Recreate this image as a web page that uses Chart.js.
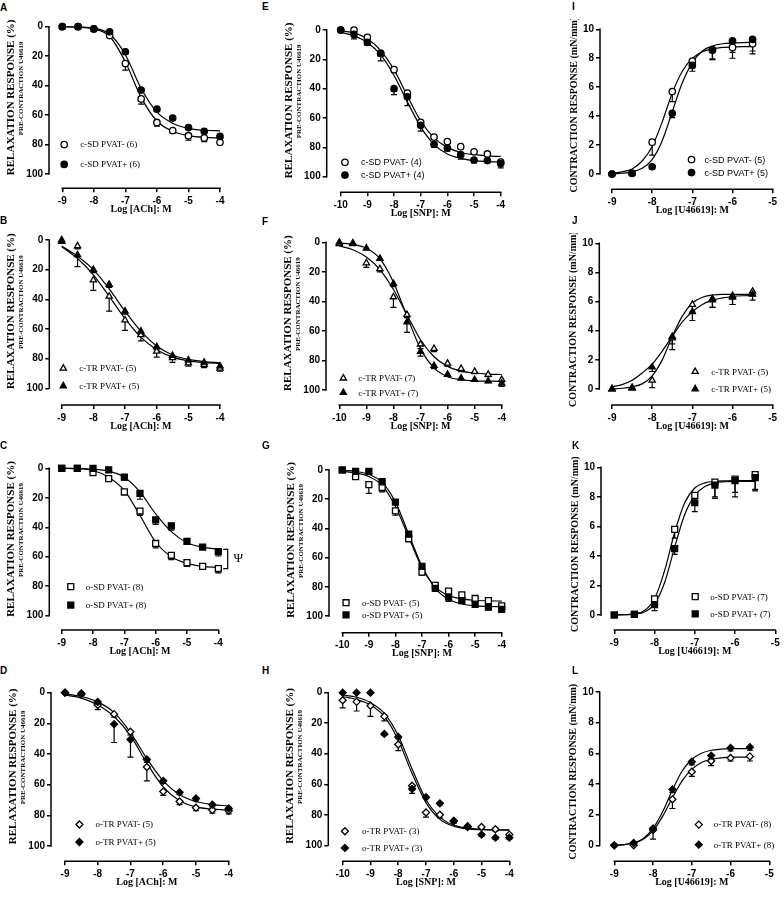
<!DOCTYPE html>
<html>
<head>
<meta charset="utf-8">
<script src="https://cdn.jsdelivr.net/npm/chart.js@4.4.1/dist/chart.umd.min.js"></script>
<style>
body { margin: 0; background: #fff; width: 784px; height: 897px; position: relative; overflow: hidden; }
canvas { position: absolute; }
.lbl { position: absolute; font: bold 10px "Liberation Sans", Arial, sans-serif; line-height: 10px; color: #000; }
</style>
</head>
<body>
<script>
// x values (log M) and ticks
var achX = [-9, -8.5, -8, -7.5, -7, -6.5, -6, -5.5, -5, -4.5, -4];
var snpX = [-10, -9.5, -9, -8.5, -8, -7.5, -7, -6.5, -6, -5.5, -5, -4.5, -4];
var u46X = [-9, -8.5, -8, -7.5, -7, -6.5, -6, -5.5];
var u46FitX = [-9, -8.75, -8.5, -8.25, -8, -7.75, -7.5, -7.25, -7, -6.75, -6.5, -6.25, -6, -5.75, -5.5];
var achTicks = [-9, -8, -7, -6, -5, -4];
var snpTicks = [-10, -9, -8, -7, -6, -5, -4];
var u46Ticks = [-9, -8, -7, -6, -5];
var relaxTicks = [0, 20, 40, 60, 80, 100];
var contractTicks = [0, 2, 4, 6, 8, 10];

var achTitle = 'Log [ACh]: M';
var snpTitle = 'Log [SNP]: M';
var u46Title = 'Log [U46619]: M';
var relaxTitle = 'RELAXATION RESPONSE (%)';
var relaxSubTitle = 'PRE-CONTRACTION U46619';
var contractTitle = 'CONTRACTION RESPONSE (mN/mm)';

// A - c-SD, ACh
var aLabels = ['c-SD PVAT- (6)', 'c-SD PVAT+ (6)'];
var aMinus = [0, 0, 1.5, 6, 25, 49, 65, 70.5, 74, 75.5, 78.5];
var aPlus = [0, 0, 1.5, 3.5, 17, 43, 56, 62, 68.5, 71, 74.5];
var aMinusErr = [0, 0, 0.5, 1, 4.5, 3.5, 2.5, 2, 3, 2.5, 1];
var aPlusErr = [0, 0, 0.5, 1, 1, 1.5, 1.5, 1.5, 1, 1, 1];
var aMinusFit = [0, 0.3, 1.5, 6.5, 24, 48, 64, 71, 74, 75.2, 75.5];
var aPlusFit = [0, 0.2, 1, 5, 19, 42, 58, 65.5, 69, 70.3, 70.7];

// E - c-SD, SNP
var eLabels = ['c-SD PVAT- (4)', 'c-SD PVAT+ (4)'];
var eMinus = [0, 0, 5, 16, 27, 43, 63, 73, 76, 79.5, 83, 84.5, 90];
var ePlus = [0, 3, 8.5, 16, 40, 45.5, 65, 78, 80.5, 85, 88.6, 89, 91];
var eMinusErr = [0, 0.5, 1, 2, 2, 2, 2, 1.5, 1.5, 1.5, 1.5, 1, 1];
var ePlusErr = [0, 3, 2, 5, 4, 6, 4, 2, 2, 3, 2, 1.5, 3];
var eMinusFit = [0.5, 2, 6, 14, 27, 45, 62, 73.5, 80, 83.5, 85, 85.8, 86.2];
var ePlusFit = [1.5, 4, 8.5, 17, 31, 49, 66, 78, 84.5, 87.5, 89, 89.7, 90];

// I - c-SD, U46619
var iLabels = ['c-SD PVAT- (5)', 'c-SD PVAT+ (5)'];
var iMinus = [0, 0.05, 2.2, 5.7, 7.8, 8.6, 8.75, 9.0];
var iPlus = [0, 0.05, 0.5, 4.2, 7.5, 8.55, 9.2, 9.3];
var iMinusErr = [0, 0, 0.9, 0.7, 0.3, 0.7, 0.75, 0.7];
var iPlusErr = [0, 0, 0.1, 0.3, 0.4, 0.6, 0.8, 0.8];
var iMinusFit = [0.05, 0.15, 0.35, 0.9, 1.9, 3.6, 5.6, 7.1, 8.0, 8.45, 8.65, 8.75, 8.78, 8.8, 8.8];
var iPlusFit = [0, 0.05, 0.15, 0.4, 1.0, 2.3, 4.3, 6.3, 7.7, 8.5, 8.85, 9.0, 9.05, 9.08, 9.1];

// B - c-TR, ACh
var bLabels = ['c-TR PVAT- (5)', 'c-TR PVAT+ (5)'];
var bMinus = [0, 4, 27, 38, 54, 64, 75, 79.5, 83, 84, 86.5];
var bPlus = [1, 10, 20, 30, 48, 61.5, 72, 78, 81, 82.5, 85];
var bMinusErr = [0, 2, 7, 10, 7, 4, 4, 3, 2, 2, 2];
var bPlusErr = [0, 8, 2, 2, 2, 2, 2, 2, 2, 2, 2];
var bMinusFit = [4.5, 12.5, 23.5, 38, 53, 65.5, 74, 79, 81.5, 82.7, 83.3];
var bPlusFit = [4, 11, 20, 33, 48, 61.5, 71.5, 77.5, 80.5, 82, 82.8];

// F - c-TR, SNP
var fLabels = ['c-TR PVAT- (7)', 'c-TR PVAT+ (7)'];
var fMinus = [1, 1, 14, 18, 37, 49, 69, 72, 82, 85.5, 87.5, 89.5, 93];
var fPlus = [0, 0.5, 4, 11, 28, 54, 74, 83.5, 89.5, 92, 93, 94, 95.5];
var fMinusErr = [0, 0, 3, 2, 7, 2, 3, 2, 2, 2, 1.5, 1.5, 1.5];
var fPlusErr = [0, 0, 1, 1, 2, 7, 3, 2, 1, 1, 1, 1, 2];
var fMinusFit = [2.5, 5, 10, 18.5, 32, 49, 66, 77.5, 84, 87.2, 88.5, 89.2, 89.5];
var fPlusFit = [0.5, 1.5, 4, 11, 27, 50, 72, 85, 91, 93, 93.8, 94, 94.2];

// J - c-TR, U46619
var jLabels = ['c-TR PVAT- (5)', 'c-TR PVAT+ (5)'];
var jMinus = [0, 0.05, 0.6, 3.5, 5.8, 6.2, 6.4, 6.7];
var jPlus = [0, 0.1, 1.5, 3.6, 5.3, 6.1, 6.3, 6.5];
var jMinusErr = [0, 0, 0.5, 0.8, 0.5, 0.6, 0.6, 0.3];
var jPlusErr = [0, 0, 0.3, 0.5, 0.6, 0.5, 0.5, 0.4];
var jMinusFit = [0, 0.05, 0.15, 0.35, 0.9, 2.0, 3.6, 5.0, 5.9, 6.3, 6.45, 6.5, 6.5, 6.5, 6.5];
var jPlusFit = [0.15, 0.3, 0.6, 1.1, 1.7, 2.6, 3.6, 4.6, 5.3, 5.8, 6.1, 6.25, 6.35, 6.4, 6.42];

// C - o-SD, ACh
var cLabels = ['o-SD PVAT- (8)', 'o-SD PVAT+ (8)'];
var cMinus = [0, 0, 3, 7, 16, 29, 51, 59, 64, 66.5, 68];
var cPlus = [0, 0, 0, 1, 6, 17, 35, 39, 49.5, 53.5, 56.5];
var cMinusErr = [0, 0, 0.5, 1, 2, 3, 3, 3, 2.5, 2, 3];
var cPlusErr = [0, 0, 0, 1, 2, 4, 3, 3, 2, 1, 3];
var cMinusFit = [0, 0.3, 1.5, 6, 15, 32, 50, 60, 64.5, 66.5, 67.3];
var cPlusFit = [0, 0.1, 0.5, 2, 6, 16, 31, 43, 50.5, 53.5, 55];

// G - o-SD, SNP
var gLabels = ['o-SD PVAT- (5)', 'o-SD PVAT+ (5)'];
var gMinus = [0, 4.5, 10, 12, 28, 47, 70, 79, 83, 85.5, 88, 89.5, 93];
var gPlus = [0, 1, 1, 8, 22, 44, 66, 81, 87, 89.5, 92, 94, 95.5];
var gMinusErr = [0, 2, 6, 3, 3, 2, 2, 2, 1.5, 1.5, 1.5, 1.5, 1];
var gPlusErr = [0, 0.5, 0.5, 1, 1.5, 1.5, 1.5, 1.5, 3, 1.5, 1, 1, 1];
var gMinusFit = [1, 2, 4.5, 10.5, 25, 46, 67, 80, 86, 88.3, 89.2, 89.6, 89.8];
var gPlusFit = [0.3, 1, 3, 8.5, 22, 44, 66, 81, 88.5, 91.8, 93, 93.5, 93.7];

// K - o-SD, U46619
var kLabels = ['o-SD PVAT- (7)', 'o-SD PVAT+ (7)'];
var kMinus = [0, 0.05, 1.1, 5.8, 8.1, 9.0, 9.2, 9.5];
var kPlus = [0, 0.05, 0.7, 4.5, 7.6, 8.8, 9.1, 9.3];
var kMinusErr = [0, 0, 0.4, 0.6, 0.5, 1.0, 0.9, 1.0];
var kPlusErr = [0, 0, 0.4, 0.4, 0.6, 0.9, 1.1, 0.9];
var kMinusFit = [0, 0.02, 0.08, 0.3, 1.1, 3.0, 5.6, 7.6, 8.6, 8.95, 9.05, 9.08, 9.1, 9.1, 9.1];
var kPlusFit = [0, 0.02, 0.06, 0.2, 0.75, 2.2, 4.6, 6.8, 8.1, 8.7, 8.95, 9.02, 9.05, 9.05, 9.05];

// D - o-TR, ACh
var dLabels = ['o-TR PVAT- (5)', 'o-TR PVAT+ (5)'];
var dMinus = [0, 1, 8, 14, 25.5, 48.5, 64.5, 71, 75, 76.5, 77];
var dPlus = [0, 0.5, 6, 20.5, 30.5, 43.5, 57.5, 65, 69, 73, 75.5];
var dMinusErr = [0, 0.5, 3, 2, 2, 9, 2.5, 2, 2, 2, 2];
var dPlusErr = [0, 0.5, 1.5, 12, 11.5, 2, 1.5, 1.5, 1.5, 1.5, 1.5];
var dMinusFit = [1.5, 3.5, 8, 15.5, 28, 46, 61.5, 70.5, 74.5, 76, 76.6];
var dPlusFit = [0.8, 2.5, 6, 13, 26, 43, 57.5, 66.5, 71, 73, 73.8];

// H - o-TR, SNP
var hLabels = ['o-TR PVAT- (3)', 'o-TR PVAT+ (3)'];
var hMinus = [5, 6, 8.5, 15.5, 34, 61, 78.5, 80, 84, 87.5, 88, 89.5, 93];
var hPlus = [0, 0, 0, 27, 29, 63, 68.5, 72.5, 84, 88, 93, 95, 95];
var hMinusErr = [5, 6, 7, 3, 4, 3, 3, 2, 1.5, 1.5, 1, 1, 1];
var hPlusErr = [0, 0, 0, 1, 1, 3, 1, 1, 1, 1, 1, 1, 1];
var hMinusFit = [2.5, 4.5, 8, 15.5, 31, 53, 72, 83, 87.5, 89.3, 89.8, 90, 90];
var hPlusFit = [1.5, 3, 6.5, 13.5, 28, 50, 70, 81.5, 86.8, 88.8, 89.5, 89.8, 89.8];

// L - o-TR, U46619
var lLabels = ['o-TR PVAT- (8)', 'o-TR PVAT+ (8)'];
var lMinus = [0, 0, 1.0, 3.0, 4.8, 5.5, 5.7, 5.8];
var lPlus = [0, 0.15, 1.1, 3.65, 5.45, 5.85, 6.35, 6.4];
var lMinusErr = [0, 0, 0.6, 0.6, 0.3, 0.3, 0.2, 0.3];
var lPlusErr = [0, 0, 0.2, 0.2, 0.2, 0.2, 0.2, 0.2];
var lMinusFit = [0, 0.05, 0.15, 0.4, 0.95, 1.9, 3.1, 4.2, 4.95, 5.4, 5.6, 5.7, 5.75, 5.75, 5.75];
var lPlusFit = [0, 0.05, 0.15, 0.45, 1.1, 2.2, 3.6, 4.85, 5.6, 6.0, 6.2, 6.27, 6.3, 6.3, 6.3];

var SERIF = '"Liberation Serif", "Times New Roman", serif';
var SANS = '"Liberation Sans", Arial, sans-serif';

var panels = [
  {letter: 'A', lx: 0, ly: 4, kind: 'relax', x: achX, fitX: achX, xTicks: achTicks, xTitle: achTitle,
   minus: aMinus, plus: aPlus, minusErr: aMinusErr, plusErr: aPlusErr, minusFit: aMinusFit, plusFit: aPlusFit,
   style: 'circle', r: 3.2, labels: aLabels, leg: {x: -8.94, y: [80, 93.5], dx: 16, font: SERIF},
   axisX: 49, topPx: 26.7, bottomPx: 174, axisY: 188.3, xStartPx: 62.3, xEndPx: 220},
  {letter: 'E', lx: 262, ly: 3, kind: 'relax', x: snpX, fitX: snpX, xTicks: snpTicks, xTitle: snpTitle,
   minus: eMinus, plus: ePlus, minusErr: eMinusErr, plusErr: ePlusErr, minusFit: eMinusFit, plusFit: ePlusFit,
   style: 'circle', r: 3.2, labels: eLabels, leg: {x: -9.84, y: [90.2, 98.9], dx: 16, font: SANS},
   axisX: 326.7, topPx: 30, bottomPx: 176.7, axisY: 192.3, xStartPx: 340.7, xEndPx: 500.7},
  {letter: 'I', lx: 572, ly: 3, kind: 'contract', x: u46X, fitX: u46FitX, xTicks: u46Ticks, xTitle: u46Title,
   minus: iMinus, plus: iPlus, minusErr: iMinusErr, plusErr: iPlusErr, minusFit: iMinusFit, plusFit: iPlusFit,
   style: 'circle', r: 3.2, labels: iLabels, leg: {x: -7.02, y: [1.0, 0.1], dx: 13, font: SANS},
   axisX: 600, topPx: 29.3, bottomPx: 174, axisY: 189.3, xStartPx: 612, xEndPx: 772.7},
  {letter: 'B', lx: 0, ly: 217, kind: 'relax', x: achX, fitX: achX, xTicks: achTicks, xTitle: achTitle,
   minus: bMinus, plus: bPlus, minusErr: bMinusErr, plusErr: bPlusErr, minusFit: bMinusFit, plusFit: bPlusFit,
   style: 'triangle', r: 3.6, labels: bLabels, leg: {x: -8.95, y: [86.5, 98.4], dx: 16, font: SERIF},
   axisX: 49.3, topPx: 240, bottomPx: 388.3, axisY: 405, xStartPx: 61.7, xEndPx: 220},
  {letter: 'F', lx: 262, ly: 218, kind: 'relax', x: snpX, fitX: snpX, xTicks: snpTicks, xTitle: snpTitle,
   minus: fMinus, plus: fPlus, minusErr: fMinusErr, plusErr: fPlusErr, minusFit: fMinusFit, plusFit: fPlusFit,
   style: 'triangle', r: 3.6, labels: fLabels, leg: {x: -9.85, y: [92, 101.8], dx: 15, font: SERIF},
   axisX: 326, topPx: 242.3, bottomPx: 390, axisY: 405, xStartPx: 339.3, xEndPx: 501.7},
  {letter: 'J', lx: 572, ly: 217, kind: 'contract', x: u46X, fitX: u46FitX, xTicks: u46Ticks, xTitle: u46Title,
   minus: jMinus, plus: jPlus, minusErr: jMinusErr, plusErr: jPlusErr, minusFit: jMinusFit, plusFit: jPlusFit,
   style: 'triangle', r: 3.6, labels: jLabels, leg: {x: -6.93, y: [1.19, 0], dx: 16, font: SERIF},
   axisX: 599.3, topPx: 243.3, bottomPx: 389, axisY: 405, xStartPx: 612, xEndPx: 772.7},
  {letter: 'C', lx: 0, ly: 442, kind: 'relax', x: achX, fitX: achX, xTicks: achTicks, xTitle: achTitle,
   minus: cMinus, plus: cPlus, minusErr: cMinusErr, plusErr: cPlusErr, minusFit: cMinusFit, plusFit: cPlusFit,
   style: 'rect', r: 4.2, labels: cLabels, leg: {x: -8.71, y: [80.3, 92.8], dx: 15, font: SERIF},
   bracket: {x: -3.7, y1: 55, y2: 68, symbolX: -3.36, symbol: 'Ψ'},
   axisX: 49.3, topPx: 468.3, bottomPx: 615.7, axisY: 630, xStartPx: 61.7, xEndPx: 218.3},
  {letter: 'G', lx: 262, ly: 442, kind: 'relax', x: snpX, fitX: snpX, xTicks: snpTicks, xTitle: snpTitle,
   minus: gMinus, plus: gPlus, minusErr: gMinusErr, plusErr: gPlusErr, minusFit: gMinusFit, plusFit: gPlusFit,
   style: 'rect', r: 4.2, labels: gLabels, leg: {x: -9.86, y: [90.9, 99.3], dx: 16, font: SERIF},
   axisX: 329, topPx: 470, bottomPx: 616, axisY: 632.7, xStartPx: 342.3, xEndPx: 501.7},
  {letter: 'K', lx: 572, ly: 442, kind: 'contract', x: u46X, fitX: u46FitX, xTicks: u46Ticks, xTitle: u46Title,
   minus: kMinus, plus: kPlus, minusErr: kMinusErr, plusErr: kPlusErr, minusFit: kMinusFit, plusFit: kPlusFit,
   style: 'rect', r: 4.2, labels: kLabels, leg: {x: -6.99, y: [1.24, 0.07], dx: 15, font: SERIF},
   axisX: 601, topPx: 467.3, bottomPx: 615, axisY: 630, xStartPx: 614.3, xEndPx: 775.3},
  {letter: 'D', lx: 0, ly: 667, kind: 'relax', x: achX, fitX: achX, xTicks: achTicks, xTitle: achTitle,
   minus: dMinus, plus: dPlus, minusErr: dMinusErr, plusErr: dPlusErr, minusFit: dMinusFit, plusFit: dPlusFit,
   style: 'rectRot', r: 3.5, labels: dLabels, leg: {x: -8.56, y: [86, 97.4], dx: 16, font: SERIF},
   axisX: 51, topPx: 692.7, bottomPx: 846, axisY: 861.3, xStartPx: 65, xEndPx: 228.7},
  {letter: 'H', lx: 262, ly: 667, kind: 'relax', x: snpX, fitX: snpX, xTicks: snpTicks, xTitle: snpTitle,
   minus: hMinus, plus: hPlus, minusErr: hMinusErr, plusErr: hPlusErr, minusFit: hMinusFit, plusFit: hPlusFit,
   style: 'rectRot', r: 3.5, labels: hLabels, leg: {x: -9.92, y: [90.8, 101.7], dx: 17, font: SERIF},
   axisX: 328.3, topPx: 692.7, bottomPx: 845.3, axisY: 861.3, xStartPx: 342.7, xEndPx: 509.3},
  {letter: 'L', lx: 572, ly: 667, kind: 'contract', x: u46X, fitX: u46FitX, xTicks: u46Ticks, xTitle: u46Title,
   minus: lMinus, plus: lPlus, minusErr: lMinusErr, plusErr: lPlusErr, minusFit: lMinusFit, plusFit: lPlusFit,
   style: 'rectRot', r: 3.5, labels: lLabels, leg: {x: -6.82, y: [1.35, 0.04], dx: 15, font: SERIF},
   axisX: 599.7, topPx: 692, bottomPx: 845.3, axisY: 861.3, xStartPx: 614.3, xEndPx: 769.3}
];

function markerPath(ctx, style, x, y, r) {
  ctx.beginPath();
  if (style === 'circle') {
    ctx.arc(x, y, r, 0, Math.PI * 2);
  } else if (style === 'triangle') {
    ctx.moveTo(x, y - r);
    ctx.lineTo(x + 0.866 * r, y + 0.5 * r);
    ctx.lineTo(x - 0.866 * r, y + 0.5 * r);
    ctx.closePath();
  } else if (style === 'rect') {
    var s = r * Math.SQRT1_2;
    ctx.rect(x - s, y - s, 2 * s, 2 * s);
  } else {
    ctx.moveTo(x, y - r);
    ctx.lineTo(x + r, y);
    ctx.lineTo(x, y + r);
    ctx.lineTo(x - r, y);
    ctx.closePath();
  }
}

function pts(xs, ys) {
  return xs.map(function (v, i) { return {x: v, y: ys[i]}; });
}

var prismPlugin = {
  id: 'prism',
  beforeDatasetsDraw: function (chart) {
    var p = chart.options.panel;
    var ctx = chart.ctx, xs = chart.scales.x, ys = chart.scales.y;
    var dir = p.kind === 'relax' ? 1 : -1;
    ctx.save();
    ctx.strokeStyle = '#000';
    ctx.lineWidth = 1.2;
    [[p.plus, p.plusErr], [p.minus, p.minusErr]].forEach(function (s) {
      p.x.forEach(function (xv, i) {
        if (!s[1][i]) return;
        var px = xs.getPixelForValue(xv);
        var y0 = ys.getPixelForValue(s[0][i]);
        var y1 = ys.getPixelForValue(s[0][i] + dir * s[1][i]);
        ctx.beginPath();
        ctx.moveTo(px, y0); ctx.lineTo(px, y1);
        ctx.moveTo(px - 3, y1); ctx.lineTo(px + 3, y1);
        ctx.stroke();
      });
    });
    ctx.restore();
  },
  afterDraw: function (chart) {
    var p = chart.options.panel;
    var ctx = chart.ctx, xs = chart.scales.x, ys = chart.scales.y, area = chart.chartArea;
    var yTicks = p.kind === 'relax' ? relaxTicks : contractTicks;
    ctx.save();
    ctx.strokeStyle = '#000';
    ctx.fillStyle = '#000';
    ctx.lineWidth = 1.5;
    // axis lines
    ctx.beginPath();
    ctx.moveTo(area.left, ys.getPixelForValue(yTicks[0]) + (p.kind === 'relax' ? -0.75 : 0.75));
    ctx.lineTo(area.left, ys.getPixelForValue(yTicks[yTicks.length - 1]) + (p.kind === 'relax' ? 0.75 : -0.75));
    ctx.moveTo(xs.getPixelForValue(p.xTicks[0]) - 0.75, area.bottom);
    ctx.lineTo(xs.getPixelForValue(p.xTicks[p.xTicks.length - 1]) + 0.75, area.bottom);
    ctx.stroke();

    // y titles
    var yMid = (ys.getPixelForValue(yTicks[0]) + ys.getPixelForValue(yTicks[yTicks.length - 1])) / 2;
    ctx.textAlign = 'center';
    ctx.textBaseline = 'middle';
    if (p.kind === 'relax') {
      ctx.save();
      ctx.translate(area.left - 38, yMid - 3);
      ctx.rotate(-Math.PI / 2);
      ctx.font = 'bold 11px ' + SERIF;
      ctx.fillText(relaxTitle, 0, 0);
      ctx.restore();
      ctx.save();
      ctx.translate(area.left - 28, yMid - 12);
      ctx.rotate(-Math.PI / 2);
      ctx.font = 'bold 7px ' + SERIF;
      ctx.fillText(relaxSubTitle, 0, 0);
      ctx.restore();
    } else {
      ctx.save();
      ctx.translate(area.left - 26, yMid + 3);
      ctx.rotate(-Math.PI / 2);
      ctx.font = 'bold 10px ' + SERIF;
      ctx.fillText(contractTitle, 0, 0);
      ctx.restore();
    }
    // x title
    var xMid = (xs.getPixelForValue(p.xTicks[0]) + xs.getPixelForValue(p.xTicks[p.xTicks.length - 1])) / 2;
    ctx.font = 'bold 10px ' + SERIF;
    ctx.fillText(p.xTitle, xMid, area.bottom + 21);

    // legend
    var lx = xs.getPixelForValue(p.leg.x);
    ctx.textAlign = 'left';
    ctx.font = '9px ' + p.leg.font;
    ctx.lineWidth = 1.3;
    p.leg.y.forEach(function (yv, k) {
      var ly = ys.getPixelForValue(yv);
      markerPath(ctx, p.style, lx, ly, p.r);
      ctx.fillStyle = k === 0 ? '#fff' : '#000';
      ctx.fill();
      ctx.stroke();
      ctx.fillStyle = '#000';
      ctx.fillText(p.labels[k], lx + p.leg.dx, ly + 0.5);
    });

    // significance bracket
    if (p.bracket) {
      var b = p.bracket;
      var bx = xs.getPixelForValue(b.x);
      var by1 = ys.getPixelForValue(b.y1), by2 = ys.getPixelForValue(b.y2);
      ctx.lineWidth = 1.2;
      ctx.beginPath();
      ctx.moveTo(bx - 4.5, by1); ctx.lineTo(bx, by1); ctx.lineTo(bx, by2); ctx.lineTo(bx - 4.5, by2);
      ctx.stroke();
      ctx.textAlign = 'center';
      ctx.font = '13px ' + SERIF;
      ctx.fillText(b.symbol, xs.getPixelForValue(b.symbolX), (by1 + by2) / 2);
    }
    ctx.restore();
  }
};

panels.forEach(function (p) {
  var lbl = document.createElement('div');
  lbl.className = 'lbl';
  lbl.textContent = p.letter;
  lbl.style.left = p.lx + 'px';
  lbl.style.top = (p.ly - 1.3) + 'px';
  document.body.appendChild(lbl);

  var left = Math.round(p.axisX - 50), top = Math.round(p.topPx - 10);
  var right = Math.round(p.xEndPx + 28), bottom = Math.round(p.axisY + 30);
  var canvas = document.createElement('canvas');
  canvas.width = right - left;
  canvas.height = bottom - top;
  canvas.style.left = left + 'px';
  canvas.style.top = top + 'px';
  canvas.style.width = (right - left) + 'px';
  canvas.style.height = (bottom - top) + 'px';
  document.body.appendChild(canvas);

  var relax = p.kind === 'relax';
  var yTicks = relax ? relaxTicks : contractTicks;
  var xFirst = p.xTicks[0], xLast = p.xTicks[p.xTicks.length - 1];
  var pxPerX = (p.xEndPx - p.xStartPx) / (xLast - xFirst);
  var xMin = xFirst - (p.xStartPx - p.axisX) / pxPerX;
  var pxPerY = (p.bottomPx - p.topPx) / (yTicks[yTicks.length - 1] - yTicks[0]);
  var yExtra = (p.axisY - p.bottomPx) / pxPerY;

  var tickFont = {family: SANS, size: 10, weight: 'bold'};
  var grid = {drawOnChartArea: false, drawTicks: true, tickLength: 4, color: '#000', lineWidth: 1.5};

  var ctx = canvas.getContext('2d');
  new Chart(ctx, {
    type: 'line',
    data: {
      datasets: [
        {label: p.labels[1], data: pts(p.x, p.plus), showLine: false, pointStyle: p.style, pointRadius: p.r,
         pointBorderWidth: 1.3, pointBorderColor: '#000', pointBackgroundColor: '#000', clip: false},
        {label: p.labels[0], data: pts(p.x, p.minus), showLine: false, pointStyle: p.style, pointRadius: p.r,
         pointBorderWidth: 1.3, pointBorderColor: '#000', pointBackgroundColor: '#fff', clip: false},
        {label: 'fit -', data: pts(p.fitX, p.minusFit), borderColor: '#000', borderWidth: 1.2, pointRadius: 0,
         cubicInterpolationMode: 'monotone', fill: false, clip: false},
        {label: 'fit +', data: pts(p.fitX, p.plusFit), borderColor: '#000', borderWidth: 1.2, pointRadius: 0,
         cubicInterpolationMode: 'monotone', fill: false, clip: false}
      ]
    },
    options: {
      panel: p,
      responsive: false,
      animation: false,
      events: [],
      layout: {padding: {left: 0, top: p.topPx - top, right: right - p.xEndPx, bottom: 0}},
      plugins: {legend: {display: false}, tooltip: {enabled: false}},
      scales: {
        x: {
          type: 'linear', min: xMin, max: xLast,
          afterBuildTicks: function (s) { s.ticks = p.xTicks.map(function (v) { return {value: v}; }); },
          afterFit: function (s) { s.height = bottom - p.axisY; },
          grid: grid, border: {display: false},
          ticks: {color: '#000', font: tickFont, padding: 3, maxRotation: 0, autoSkip: false}
        },
        y: {
          type: 'linear', reverse: relax,
          min: relax ? 0 : -yExtra, max: relax ? 100 + yExtra : 10,
          afterBuildTicks: function (s) { s.ticks = yTicks.map(function (v) { return {value: v}; }); },
          afterFit: function (s) { s.width = p.axisX - left; },
          grid: grid, border: {display: false},
          ticks: {color: '#000', font: tickFont, padding: 2, autoSkip: false}
        }
      }
    },
    plugins: [prismPlugin]
  });
});
</script>
</body>
</html>
